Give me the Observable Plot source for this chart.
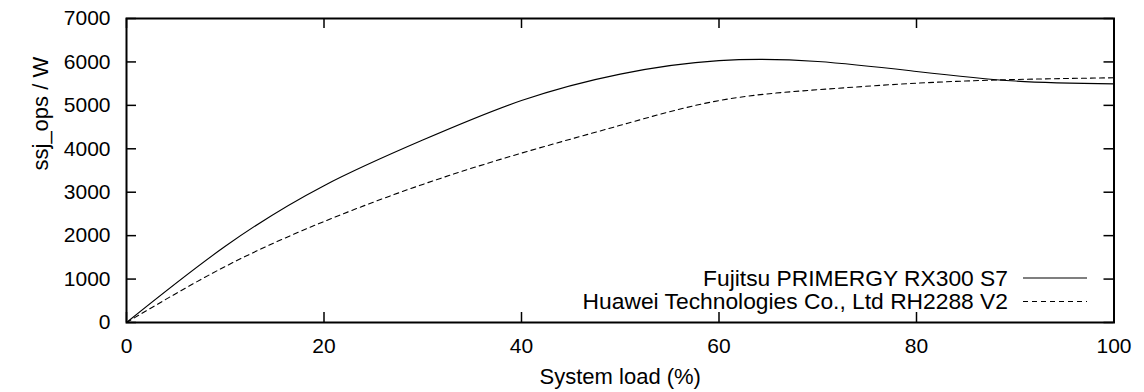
<!DOCTYPE html>
<html>
<head>
<meta charset="utf-8">
<script src="https://cdn.jsdelivr.net/npm/d3@7"></script>
<script src="https://cdn.jsdelivr.net/npm/@observablehq/plot@0.6"></script>
<style>
  html, body { margin: 0; padding: 0; background: #fff; }
</style>
</head>
<body>
<div id="chart"></div>
<script>
// SPECpower efficiency (ssj_ops per watt) across target load levels
const load = [0, 10, 20, 30, 40, 50, 60, 70, 80, 90, 100];
const fujitsu = [0, 1755, 3150, 4200, 5110, 5720, 6030, 6010, 5780, 5560, 5495];
const huawei = [0, 1290, 2325, 3180, 3900, 4540, 5110, 5360, 5510, 5595, 5635];

const seriesNames = [
  "Fujitsu PRIMERGY RX300 S7",
  "Huawei Technologies Co., Ltd RH2288 V2"
];
const dashes = [null, "5,4"];

const xTicks = [0, 20, 40, 60, 80, 100];
const yTicks = [0, 1000, 2000, 3000, 4000, 5000, 6000, 7000];

const width = 1144, height = 392;
const margin = {top: 18, right: 30.5, bottom: 70, left: 126};
const plotW = width - margin.left - margin.right;
const plotH = height - margin.top - margin.bottom;
const tickLen = 10;

const rows = (ys) => load.map((x, i) => ({x, y: ys[i]}));

// Legend drawn in the lower-right corner of the frame
function legend(index, scales, values, dims) {
  const d = dims || {width, height, marginRight: margin.right, marginBottom: margin.bottom};
  const right = d.width - d.marginRight;
  const bottom = d.height - d.marginBottom;
  const g = d3.create("svg:g").attr("font-size", "22.8px");
  seriesNames.forEach((name, i) => {
    const y = bottom - 44 + i * 23.5;
    g.append("text")
      .attr("x", right - 105.5)
      .attr("y", y)
      .attr("dy", "0.35em")
      .attr("text-anchor", "end")
      .attr("fill", "black")
      .text(name);
    g.append("line")
      .attr("x1", right - 90.5)
      .attr("x2", right - 26.5)
      .attr("y1", y)
      .attr("y2", y)
      .attr("stroke", "black")
      .attr("stroke-width", 1.1)
      .attr("stroke-dasharray", dashes[i]);
  });
  return g.node();
}

const chart = Plot.plot({
  width,
  height,
  marginTop: margin.top,
  marginRight: margin.right,
  marginBottom: margin.bottom,
  marginLeft: margin.left,
  style: {
    fontFamily: "'Liberation Sans', Arial, sans-serif",
    fontSize: "21px",
    color: "black",
    background: "white"
  },
  x: {domain: [0, 100], ticks: xTicks, tickFormat: "d", tickSize: 0, tickPadding: 16, label: null},
  y: {domain: [0, 7000], ticks: yTicks, tickFormat: "d", tickSize: 0, tickPadding: 16, label: null},
  marks: [
    // inward ticks on all four sides
    Plot.tickY(yTicks, {y: d => d, insetRight: plotW - tickLen, stroke: "black", strokeWidth: 1.5}),
    Plot.tickY(yTicks, {y: d => d, insetLeft: plotW - tickLen, stroke: "black", strokeWidth: 1.5}),
    Plot.tickX(xTicks, {x: d => d, insetTop: plotH - tickLen, stroke: "black", strokeWidth: 1.5}),
    Plot.tickX(xTicks, {x: d => d, insetBottom: plotH - tickLen, stroke: "black", strokeWidth: 1.5}),
    Plot.line(rows(fujitsu), {x: "x", y: "y", curve: "natural", stroke: "black", strokeWidth: 1.1}),
    Plot.line(rows(huawei), {x: "x", y: "y", curve: "natural", stroke: "black", strokeWidth: 1.1, strokeDasharray: "5,4"}),
    Plot.frame({stroke: "black", strokeWidth: 2}),
    Plot.text(["ssj_ops / W"], {text: d => d, frameAnchor: "left", rotate: -90, dx: -86, fill: "black", fontSize: 22}),
    Plot.text(["System load (%)"], {text: d => d, frameAnchor: "bottom", dy: 61, fill: "black", fontSize: 22}),
    legend
  ]
});

document.getElementById("chart").appendChild(chart);
</script>
</body>
</html>
